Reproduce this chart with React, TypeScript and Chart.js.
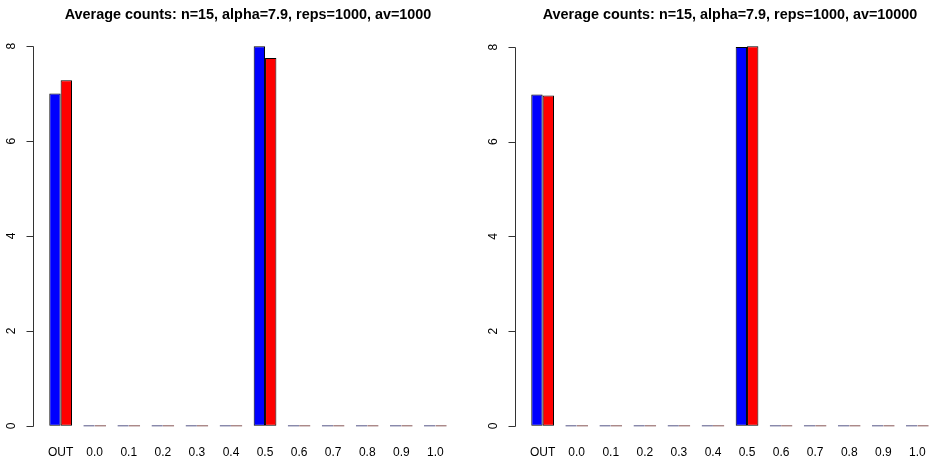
import React, { useEffect, useRef } from 'react';
import { Chart, registerables } from 'chart.js';

Chart.register(...registerables);

const categories = ['OUT', '0.0', '0.1', '0.2', '0.3', '0.4', '0.5', '0.6', '0.7', '0.8', '0.9', '1.0'];
const leftTitle = 'Average counts: n=15, alpha=7.9, reps=1000, av=1000';
const rightTitle = 'Average counts: n=15, alpha=7.9, reps=1000, av=10000';
const leftBlue = [7, 0, 0, 0, 0, 0, 8, 0, 0, 0, 0, 0];
const leftRed = [7.28, 0, 0, 0, 0, 0, 7.75, 0, 0, 0, 0, 0];
const rightBlue = [7, 0, 0, 0, 0, 0, 8, 0, 0, 0, 0, 0];
const rightRed = [6.98, 0, 0, 0, 0, 0, 8.02, 0, 0, 0, 0, 0];
const yTicks = [0, 2, 4, 6, 8];

const FONT = 'Liberation Sans, Arial, Helvetica, sans-serif';

const rAxisPlugin = {
  id: 'rAxis',
  afterDatasetsDraw(chart: any) {
    const x = chart.scales.x;
    const y = chart.scales.y;
    const ctx = chart.ctx;
    const cw = (x.right - x.left) / categories.length;
    const unit = cw / 3;
    const plotLeft = x.getPixelForValue(0) - 2.4 * unit;
    const ax = Math.floor(plotLeft) + 0.5;
    const top = y.getPixelForValue(yTicks[yTicks.length - 1]);
    const bottom = y.getPixelForValue(yTicks[0]);
    ctx.save();
    ctx.strokeStyle = '#333';
    ctx.lineWidth = 1;
    ctx.beginPath();
    ctx.moveTo(ax, Math.round(top) + 0.5);
    ctx.lineTo(ax, Math.round(bottom) + 0.5);
    for (const t of y.ticks) {
      const py = Math.round(y.getPixelForValue(t.value)) + 0.5;
      ctx.moveTo(ax, py);
      ctx.lineTo(ax - 7, py);
    }
    ctx.stroke();
    ctx.fillStyle = '#000';
    ctx.font = `12px ${FONT}`;
    ctx.textAlign = 'center';
    ctx.textBaseline = 'middle';
    for (const t of y.ticks) {
      const py = y.getPixelForValue(t.value);
      ctx.save();
      ctx.translate(ax - 21.5, py);
      ctx.rotate(-Math.PI / 2);
      ctx.fillText(String(t.value), 0, 0);
      ctx.restore();
    }
    ctx.restore();
  },
};

function Panel({ title, blue, red, left }: { title: string; blue: number[]; red: number[]; left: number }) {
  const ref = useRef<HTMLCanvasElement | null>(null);
  useEffect(() => {
    if (!ref.current) return;
    const maxV = Math.max(...blue, ...red, 0);
    const pad = 0.04 * maxV;
    const zeroBlue = '#2e2e6a';
    const zeroRed = '#6a2e2e';
    const chart = new Chart(ref.current, {
      type: 'bar',
      data: {
        labels: categories,
        datasets: [
          {
            data: blue,
            backgroundColor: (c: any) => (c.raw === 0 ? zeroBlue : '#0000ff'),
            borderColor: (c: any) => (c.raw === 0 ? zeroBlue : '#000000'),
            borderWidth: 1,
            borderSkipped: false,
            minBarLength: 1.2,
            categoryPercentage: 2 / 3,
            barPercentage: 1,
          },
          {
            data: red,
            backgroundColor: (c: any) => (c.raw === 0 ? zeroRed : '#ff0000'),
            borderColor: (c: any) => (c.raw === 0 ? zeroRed : '#000000'),
            borderWidth: 1,
            borderSkipped: false,
            minBarLength: 1.2,
            categoryPercentage: 2 / 3,
            barPercentage: 1,
          },
        ],
      },
      options: {
        responsive: false,
        animation: false,
        devicePixelRatio: 1,
        layout: { padding: { left: 43.6, right: 29.6, top: 0, bottom: 2 } },
        plugins: {
          legend: { display: false },
          tooltip: { enabled: false },
          title: {
            display: true,
            text: title,
            color: '#000',
            font: { family: FONT, size: 14.4, weight: 'bold', lineHeight: 1.2 },
            padding: { top: 6.5, bottom: 7.2 },
          },
        },
        scales: {
          x: {
            type: 'category',
            offset: true,
            grid: { display: false, drawTicks: false },
            border: { display: false },
            ticks: {
              color: '#000',
              font: { family: FONT, size: 12 },
              padding: 4,
              maxRotation: 0,
              minRotation: 0,
              autoSkip: false,
            },
            afterFit: (scale: any) => {
              scale.height = 19;
            },
          },
          y: {
            display: false,
            min: -pad,
            max: maxV + pad,
            afterBuildTicks: (scale: any) => {
              scale.ticks = yTicks.map((v) => ({ value: v }));
            },
          },
        },
      },
      plugins: [rAxisPlugin],
    } as any);
    return () => chart.destroy();
  }, [title, blue, red]);
  return (
    <canvas
      ref={ref}
      width={482}
      height={462}
      style={{ position: 'absolute', left, top: 0, width: 482, height: 462 }}
    />
  );
}

export default function App() {
  return (
    <div
      style={{
        position: 'fixed',
        left: 0,
        top: 0,
        width: 929,
        height: 462,
        overflow: 'hidden',
        background: '#fff',
      }}
    >
      <Panel title={leftTitle} blue={leftBlue} red={leftRed} left={0} />
      <Panel title={rightTitle} blue={rightBlue} red={rightRed} left={482} />
    </div>
  );
}
